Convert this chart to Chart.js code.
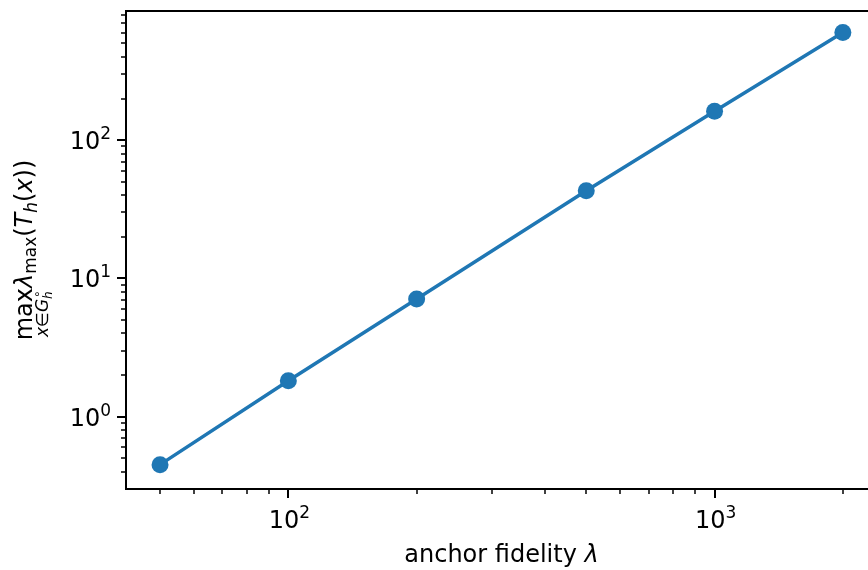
<!DOCTYPE html>
<html lang="en">
<head>
<meta charset="UTF-8">
<title>Anchor fidelity vs max eigenvalue</title>
<script src="https://cdn.jsdelivr.net/npm/chart.js"></script>
<style>
  html, body { margin: 0; padding: 0; background: #fff; }
  #wrap { width: 868px; height: 570px; }
</style>
</head>
<body>
<div id="wrap"><canvas id="chart" width="868" height="570"></canvas></div>
<script>
// data (log-log)
const fidelity = [50, 100, 200, 500, 1000, 2000];
const maxEig = [0.45, 1.82, 7.1, 43, 162, 600];

// tick positions
const xMajor = [100, 1000];
const xMinor = [50, 60, 70, 80, 90, 200, 300, 400, 500, 600, 700, 800, 900, 2000];
const yMajor = [1, 10, 100];
const yMinor = [0.4, 0.5, 0.6, 0.7, 0.8, 0.9, 2, 3, 4, 5, 6, 7, 8, 9,
                20, 30, 40, 50, 60, 70, 80, 90, 200, 300, 400, 500, 600, 700, 800];
const xRange = [41.6, 2291];
const yRange = [0.314, 859];

const FONT = "'DejaVu Sans', sans-serif";
const blue = '#1f77b4';

function runs(ctx, list, x, base) {
    for (const r of list) {
        ctx.font = r.f;
        ctx.fillText(r.t, x, base + (r.dy || 0));
        x += ctx.measureText(r.t).width;
    }
    return x;
}
function runsWidth(ctx, list) {
    let w = 0;
    for (const r of list) { ctx.font = r.f; w += ctx.measureText(r.t).width; }
    return w;
}
// "10" with a raised exponent, like mathtext
function decadeRuns(v) {
    const e = String(Math.round(Math.log10(v)));
    return [
        { t: '10', f: '24px ' + FONT },
        { t: e, f: '17px ' + FONT, dy: -10 }
    ];
}

const axesPlugin = {
    id: 'axesFrame',
    afterDraw(chart) {
        const ctx = chart.ctx;
        const a = chart.chartArea;
        const xs = chart.scales.x, ys = chart.scales.y;
        ctx.save();
        ctx.strokeStyle = '#000';
        ctx.lineWidth = 2;
        ctx.lineCap = 'butt';
        ctx.beginPath();
        ctx.moveTo(a.right + 10, a.top);
        ctx.lineTo(a.left, a.top);
        ctx.lineTo(a.left, a.bottom);
        ctx.lineTo(a.right + 10, a.bottom);
        ctx.stroke();

        // tick marks
        function tick(px, len, w, horiz) {
            ctx.lineWidth = w;
            ctx.beginPath();
            if (horiz) { ctx.moveTo(a.left, px); ctx.lineTo(a.left - len, px); }
            else { ctx.moveTo(px, a.bottom); ctx.lineTo(px, a.bottom + len); }
            ctx.stroke();
        }
        xMajor.forEach(v => tick(Math.round(xs.getPixelForValue(v)), 9, 2, false));
        xMinor.forEach(v => tick(Math.round(xs.getPixelForValue(v)), 5, 1.5, false));
        yMajor.forEach(v => tick(Math.round(ys.getPixelForValue(v)), 9, 2, true));
        yMinor.forEach(v => tick(Math.round(ys.getPixelForValue(v)), 5, 1.5, true));

        ctx.fillStyle = '#000';
        ctx.textBaseline = 'alphabetic';
        ctx.textAlign = 'left';

        // tick labels
        xMajor.forEach(v => {
            const r = decadeRuns(v);
            const w = runsWidth(ctx, r);
            runs(ctx, r, xs.getPixelForValue(v) - w / 2 + 1, a.bottom + 39);
        });
        yMajor.forEach(v => {
            const r = decadeRuns(v);
            const w = runsWidth(ctx, r);
            runs(ctx, r, a.left - 15 - w, ys.getPixelForValue(v) + 9);
        });

        // x label: anchor fidelity λ
        const S = 24;
        const xl = [
            { t: 'anchor fidelity ', f: S + 'px ' + FONT },
            { t: 'λ', f: 'italic ' + S + 'px ' + FONT }
        ];
        const xw = runsWidth(ctx, xl);
        runs(ctx, xl, (a.left + a.right + 9) / 2 - xw / 2, 562);

        // y label: max_{x∈G_h°} λ_max(T_h(x))
        const M = 24, s = 17, s2 = 12;
        const main = [
            { t: 'max', f: M + 'px ' + FONT },
            { t: 'λ', f: 'italic ' + M + 'px ' + FONT },
            { t: 'max', f: s + 'px ' + FONT, dy: 4 },
            { t: '(', f: M + 'px ' + FONT },
            { t: 'T', f: 'italic ' + M + 'px ' + FONT },
            { t: 'h', f: 'italic ' + s + 'px ' + FONT, dy: 5 },
            { t: '(', f: M + 'px ' + FONT },
            { t: 'x', f: 'italic ' + M + 'px ' + FONT },
            { t: '))', f: M + 'px ' + FONT }
        ];
        const mw = runsWidth(ctx, main);
        ctx.translate(32, (a.top + a.bottom) / 2);
        ctx.rotate(-Math.PI / 2);
        const x0 = -mw / 2;
        ctx.font = M + 'px ' + FONT;
        const opW = ctx.measureText('max').width;
        runs(ctx, main, x0, 0);
        // operator subscript
        const sub = [
            { t: 'x', f: 'italic ' + s + 'px ' + FONT },
            { t: '∈', f: s + 'px ' + FONT },
            { t: 'G', f: 'italic ' + s + 'px ' + FONT }
        ];
        const sw = runsWidth(ctx, sub);
        ctx.font = 'italic ' + s2 + 'px ' + FONT;
        const hw = ctx.measureText('h').width;
        const sx = x0 + opW / 2 - (sw + hw) / 2;
        const ex = runs(ctx, sub, sx, 16);
        ctx.font = 'italic ' + s2 + 'px ' + FONT;
        ctx.fillText('h', ex, 20);
        ctx.font = s2 + 'px ' + FONT;
        ctx.fillText('∘', ex + 1, 9);
        ctx.restore();
    }
};

new Chart(document.getElementById('chart'), {
    type: 'line',
    data: {
        datasets: [{
            data: fidelity.map((f, i) => ({ x: f, y: maxEig[i] })),
            borderColor: blue,
            backgroundColor: blue,
            borderWidth: 3.5,
            pointRadius: 8.5,
            pointBorderWidth: 0,
            pointBackgroundColor: blue,
            fill: false,
            tension: 0,
            clip: false
        }]
    },
    options: {
        responsive: false,
        devicePixelRatio: 1,
        animation: false,
        layout: { autoPadding: false, padding: { left: 0, top: 11, right: 0, bottom: 0 } },
        plugins: { legend: { display: false }, tooltip: { enabled: false } },
        scales: {
            x: {
                type: 'logarithmic',
                min: xRange[0],
                max: xRange[1],
                grid: { display: false, drawTicks: false },
                border: { display: false },
                afterBuildTicks: sc => { sc.ticks = xMajor.map(v => ({ value: v })); },
                afterFit: sc => { sc.height = 81; },
                ticks: { display: false }
            },
            y: {
                type: 'logarithmic',
                min: yRange[0],
                max: yRange[1],
                grid: { display: false, drawTicks: false },
                border: { display: false },
                afterBuildTicks: sc => { sc.ticks = yMajor.map(v => ({ value: v })); },
                afterFit: sc => { sc.width = 126; },
                ticks: { display: false }
            }
        }
    },
    plugins: [axesPlugin]
});
</script>
</body>
</html>
